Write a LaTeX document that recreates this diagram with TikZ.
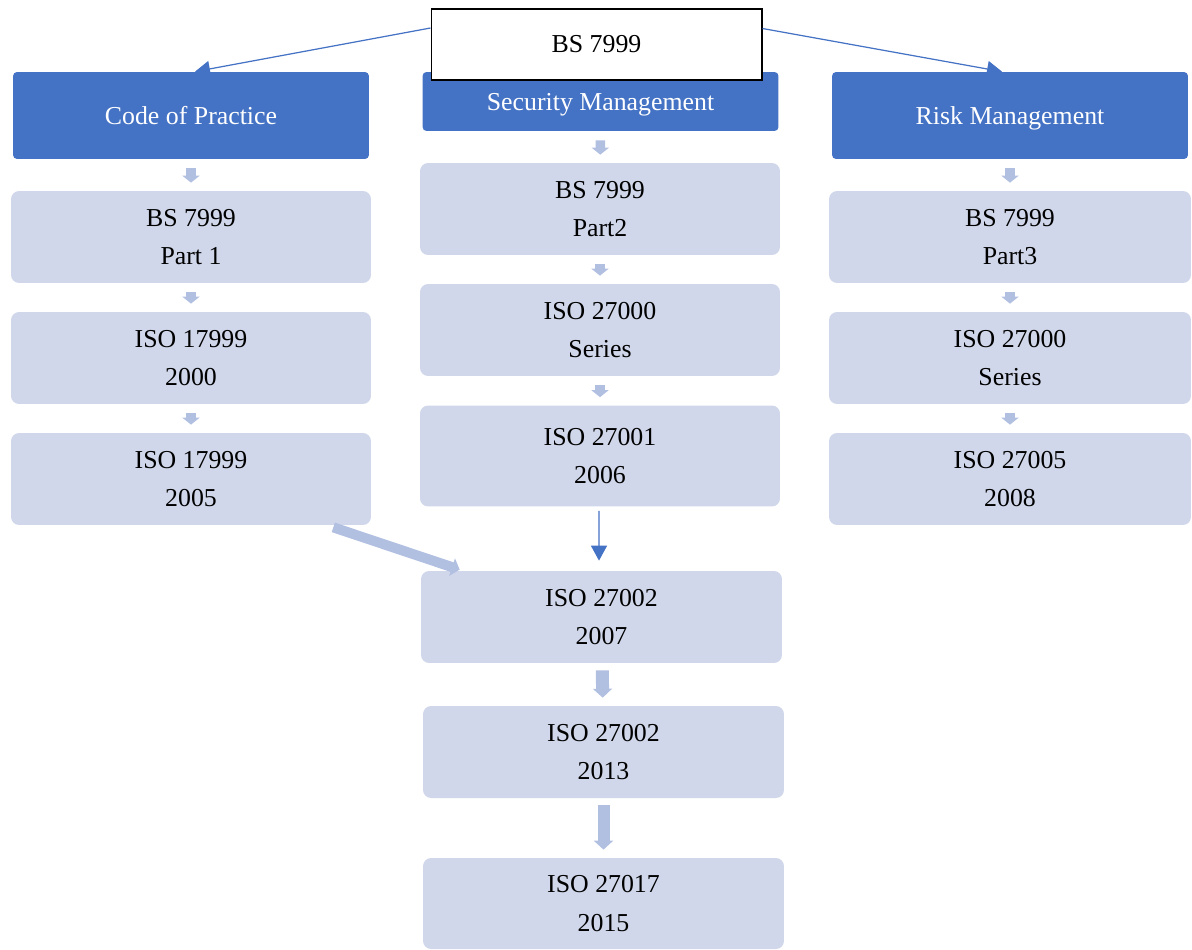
\documentclass[tikz,border=0pt]{standalone}
\usepackage{fontspec}
\setmainfont{Liberation Serif}
\usetikzlibrary{arrows.meta}
\definecolor{headblue}{HTML}{4472C4}
\definecolor{steplight}{HTML}{D0D7EA}
\definecolor{arrowlight}{HTML}{B1BFE1}
\tikzstyle{topbox} = [draw=black, fill=white, semithick, rectangle,
    minimum width=6.62cm, minimum height=1.42cm, inner sep=0pt]
\tikzstyle{headbox} = [fill=headblue, text=white, rectangle, rounded corners=0.08cm,
    minimum width=7.12cm, inner sep=0pt, text height=10pt, text depth=0pt]
\tikzstyle{stepbox} = [fill=steplight, rectangle, rounded corners=0.16cm,
    minimum width=7.2cm, minimum height=1.84cm, inner sep=0pt, align=center]
\tikzstyle{smallarrow} = [draw=arrowlight, line width=0.19cm,
    -{Triangle[width=0.34cm, length=0.14cm]}, shorten <=0.18cm, shorten >=0.16cm]
\tikzstyle{bigarrow} = [draw=arrowlight, line width=0.26cm,
    -{Triangle[width=0.38cm, length=0.18cm]}, shorten <=0.14cm, shorten >=0.16cm]
\tikzstyle{thinarrow} = [draw=headblue, line width=0.7pt,
    -{Triangle[width=0.32cm, length=0.3cm]}]

\begin{document}
\begin{tikzpicture}[x=0.02cm, y=-0.02cm,
        font=\fontsize{14.7}{22}\selectfont]
    \useasboundingbox (0,0) rectangle (1192,949);

    % three headings
    \node[headbox, minimum height=1.74cm] (code) at (191,115.5) {Code of Practice};
    \node[headbox, minimum height=1.18cm] (secm) at (600.5,101.5) {Security Management};
    \node[headbox, minimum height=1.74cm] (risk) at (1010,115.5) {Risk Management};

    % root on top of the middle heading
    \node[topbox] (root) at (596.5,44.5) {BS 7999};

    % left column
    \node[stepbox] (l1) at (191,237) {BS 7999\\Part 1};
    \node[stepbox] (l2) at (191,358) {ISO 17999\\2000};
    \node[stepbox] (l3) at (191,479) {ISO 17999\\2005};

    % middle column
    \node[stepbox] (m1) at (600,209) {BS 7999\\Part2};
    \node[stepbox] (m2) at (600,330) {ISO 27000\\Series};
    \node[stepbox, minimum height=2.02cm] (m3) at (600,456) {ISO 27001\\2006};
    \node[stepbox, minimum width=7.22cm] (m4) at (601.5,617) {ISO 27002\\2007};
    \node[stepbox, minimum width=7.22cm] (m5) at (603.5,752) {ISO 27002\\2013};
    \node[stepbox, minimum width=7.22cm, minimum height=1.82cm] (m6) at (603.5,903.5) {ISO 27017\\2015};

    % right column
    \node[stepbox, minimum width=7.24cm] (r1) at (1010,237) {BS 7999\\Part3};
    \node[stepbox, minimum width=7.24cm] (r2) at (1010,358) {ISO 27000\\Series};
    \node[stepbox, minimum width=7.24cm] (r3) at (1010,479) {ISO 27005\\2008};

    % root to left and right headings
    \draw[thinarrow] ([yshift=0.33cm]root.west) -- ([xshift=0.08cm]code.north);
    \draw[thinarrow] ([yshift=0.32cm]root.east) -- ([xshift=-0.16cm]risk.north);

    % small steps
    \draw[smallarrow] (code) -- (l1);
    \draw[smallarrow] (l1) -- (l2);
    \draw[smallarrow] (l2) -- (l3);
    \draw[smallarrow] (secm) -- (m1);
    \draw[smallarrow] (m1) -- (m2);
    \draw[smallarrow] (m2) -- (m3);
    \draw[smallarrow] (risk) -- (r1);
    \draw[smallarrow] (r1) -- (r2);
    \draw[smallarrow] (r2) -- (r3);

    % into ISO 27002
    \draw[thinarrow, shorten <=0.08cm, shorten >=0.2cm] ([xshift=-0.02cm]m3.south) -- ([xshift=-0.05cm]m4.north);
    \draw[draw=arrowlight, line width=0.2cm, -{Triangle[width=0.36cm, length=0.16cm]}]
        ([xshift=-0.76cm, yshift=-0.04cm]l3.south east) -- ([xshift=0.78cm, yshift=0.02cm]m4.north west);
    \draw[bigarrow] (m4) -- (m5);
    \draw[bigarrow, line width=0.24cm] (m5) -- (m6);
\end{tikzpicture}
\end{document}
